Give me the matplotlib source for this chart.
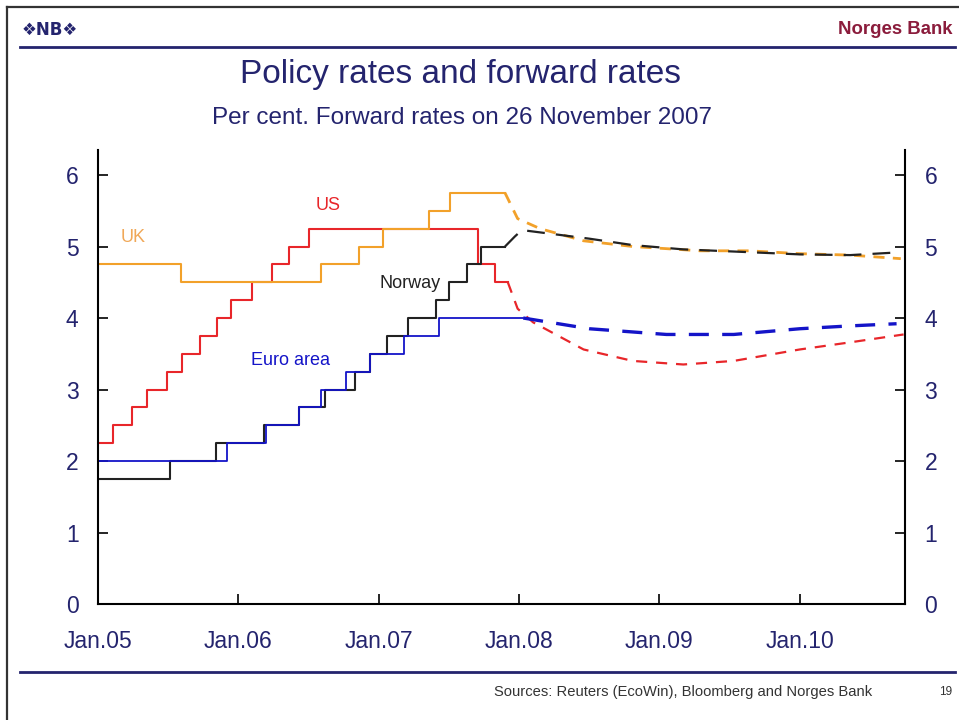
import matplotlib
matplotlib.use('Agg')
import matplotlib.pyplot as plt
from matplotlib.lines import Line2D

plt.rcParams['font.family'] = ['Liberation Sans', 'DejaVu Sans']

# Policy rates (step series), x in decimal years
us_dates = [2005.0, 2005.11, 2005.24, 2005.35, 2005.49, 2005.60, 2005.73, 2005.85,
            2005.95, 2006.10, 2006.24, 2006.36, 2006.50, 2007.71, 2007.83, 2007.92]
us_vals = [2.25, 2.5, 2.75, 3.0, 3.25, 3.5, 3.75, 4.0, 4.25, 4.5, 4.75, 5.0, 5.25,
           4.75, 4.5, 4.5]

uk_dates = [2005.0, 2005.59, 2006.59, 2006.86, 2007.03, 2007.36, 2007.51, 2007.90]
uk_vals = [4.75, 4.5, 4.75, 5.0, 5.25, 5.5, 5.75, 5.75]

no_dates = [2005.0, 2005.51, 2005.84, 2006.18, 2006.43, 2006.62, 2006.83, 2006.94,
            2007.06, 2007.21, 2007.41, 2007.50, 2007.63, 2007.73, 2007.90]
no_vals = [1.75, 2.0, 2.25, 2.5, 2.75, 3.0, 3.25, 3.5, 3.75, 4.0, 4.25, 4.5, 4.75,
           5.0, 5.0]

eu_dates = [2005.0, 2005.92, 2006.20, 2006.43, 2006.59, 2006.77, 2006.94, 2007.18,
            2007.43, 2008.03]
eu_vals = [2.0, 2.25, 2.5, 2.75, 3.0, 3.25, 3.5, 3.75, 4.0, 4.0]

# Forward rates on 26 November 2007
us_fwd_x = [2007.92, 2007.99, 2008.10, 2008.46, 2008.81, 2009.17, 2009.53, 2010.0,
            2010.36, 2010.74]
us_fwd_y = [4.5, 4.13, 3.94, 3.56, 3.40, 3.35, 3.40, 3.56, 3.66, 3.77]

uk_fwd_x = [2007.90, 2007.99, 2008.15, 2008.46, 2008.81, 2009.29, 2009.64, 2010.0,
            2010.36, 2010.72]
uk_fwd_y = [5.75, 5.39, 5.25, 5.08, 5.00, 4.94, 4.94, 4.90, 4.88, 4.83]

no_fwd_x = [2007.90, 2007.97, 2008.02, 2008.5, 2008.81, 2009.17, 2009.53, 2010.0,
            2010.36, 2010.72]
no_fwd_y = [5.0, 5.14, 5.23, 5.11, 5.02, 4.96, 4.93, 4.89, 4.88, 4.92]

eu_fwd_x = [2008.03, 2008.5, 2009.05, 2009.53, 2010.0, 2010.36, 2010.69]
eu_fwd_y = [4.0, 3.85, 3.77, 3.77, 3.85, 3.89, 3.92]

tick_years = [2005, 2006, 2007, 2008, 2009, 2010]
tick_labels = ['Jan.05', 'Jan.06', 'Jan.07', 'Jan.08', 'Jan.09', 'Jan.10']

navy = '#24246e'
red = '#e8262a'
orange = '#f2a12a'
black = '#222222'
blue = '#1414c8'

fig = plt.figure(figsize=(9.59, 7.2), dpi=100)
ax = fig.add_axes([98 / 959, 116 / 720, 807 / 959, 454 / 720])

ax.plot(us_dates, us_vals, drawstyle='steps-post', color=red, lw=1.5)
ax.plot(uk_dates, uk_vals, drawstyle='steps-post', color=orange, lw=1.5)
ax.plot(no_dates, no_vals, drawstyle='steps-post', color=black, lw=1.5)
ax.plot(eu_dates, eu_vals, drawstyle='steps-post', color=blue, lw=1.3)

ax.plot(us_fwd_x, us_fwd_y, color=red, lw=1.6, dashes=(5, 4))
ax.plot(uk_fwd_x, uk_fwd_y, color=orange, lw=2.0, dashes=(4, 3))
ax.plot(no_fwd_x, no_fwd_y, color=black, lw=1.6, dashes=(8, 5))
ax.plot(eu_fwd_x, eu_fwd_y, color=blue, lw=2.4, dashes=(6, 4))

ax.text(2005.25, 5.13, 'UK', color='#f0a858', fontsize=13, ha='center', va='center')
ax.text(2006.64, 5.58, 'US', color=red, fontsize=13, ha='center', va='center')
ax.text(2007.22, 4.48, 'Norway', color=black, fontsize=13, ha='center', va='center')
ax.text(2006.37, 3.41, 'Euro area', color=blue, fontsize=13, ha='center', va='center')

ax.set_xlim(2005, 2010.75)
ax.set_ylim(0, 6.35)
ax.set_xticks(tick_years)
ax.set_xticklabels(tick_labels)
ax.set_yticks(range(0, 7))
ax.tick_params(axis='both', direction='in', length=7, width=1.2, colors='black',
               labelcolor=navy, labelsize=16.5)
ax.tick_params(axis='y', right=True, labelright=True, pad=14)
ax.tick_params(axis='x', pad=19)
ax.spines['top'].set_visible(False)
for s in ['left', 'right', 'bottom']:
    ax.spines[s].set_linewidth(1.5)

# Titles
fig.text(0.48, 1 - 75 / 720, 'Policy rates and forward rates', color=navy, fontsize=24,
         ha='center', va='center')
fig.text(0.482, 1 - 118 / 720, 'Per cent. Forward rates on 26 November 2007', color=navy,
         fontsize=17.5, ha='center', va='center')

# Slide frame and header/footer
fig.add_artist(Line2D([7 / 959, 1.0], [1 - 7 / 720, 1 - 7 / 720], color='#333333', lw=1.6))
fig.add_artist(Line2D([7 / 959, 7 / 959], [0, 1 - 7 / 720], color='#333333', lw=1.6))
fig.add_artist(Line2D([20 / 959, 955 / 959], [1 - 47 / 720, 1 - 47 / 720], color=navy, lw=2))
fig.add_artist(Line2D([20 / 959, 955 / 959], [1 - 672 / 720, 1 - 672 / 720], color=navy, lw=2))

fig.text(22 / 959, 1 - 30 / 720, '\u2756NB\u2756', color=navy, fontsize=12,
         fontweight='bold', ha='left', va='center', family=['DejaVu Sans'])
fig.text(952 / 959, 1 - 30 / 720, 'Norges Bank', color='#8b1c3c', fontsize=13.4,
         fontweight='bold', ha='right', va='center')
fig.text(872 / 959, 1 - 692 / 720, 'Sources: Reuters (EcoWin), Bloomberg and Norges Bank',
         color='#333333', fontsize=10.6, ha='right', va='center')
fig.text(946 / 959, 1 - 692 / 720, '19', color='#333333', fontsize=8.5, ha='center',
         va='center')

fig.savefig('out.png', dpi=100)
